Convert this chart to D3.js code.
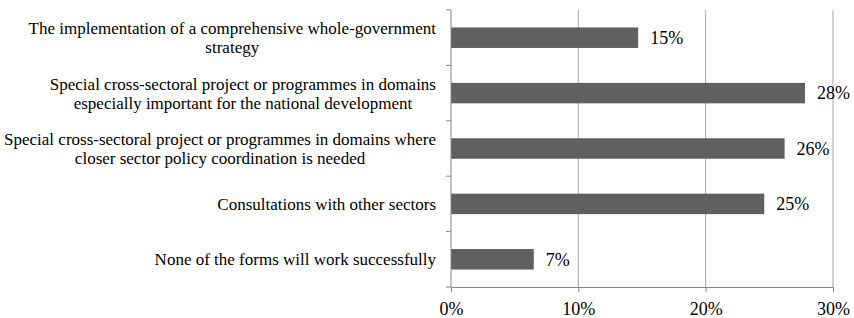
<!DOCTYPE html>
<html>
<head>
<meta charset="utf-8">
<script src="https://cdn.jsdelivr.net/npm/d3@7"></script>
</head>
<body style="margin:0">
<div id="chart"></div>
<script>
// Categories (each entry is a list of label lines) and values
var categories = [
  ["The implementation of a comprehensive whole-government", "strategy"],
  ["Special cross-sectoral project or programmes in domains", "especially important for the national development"],
  ["Special cross-sectoral project or programmes in domains where", "closer sector policy coordination is needed"],
  ["Consultations with other sectors"],
  ["None of the forms will work successfully"]
];
var values = [14.7, 27.8, 26.2, 24.6, 6.5];
var valueLabels = ["15%", "28%", "26%", "25%", "7%"];
var xTicks = [0, 10, 20, 30];

var fontName = "'Liberation Serif'";
// text is set at 20px and scaled down, so the serif face is picked
var basePx = 20;

function drawChart() {
  var w = 854;
  var h = 318;
  var plotLeft = 451, plotRight = 833, plotTop = 10, plotBottom = 287;

  var svg = d3.select("#chart").append("svg")
    .attr("width", w)
    .attr("height", h);

  var xScale = d3.scaleLinear().domain([0, 30]).range([plotLeft, plotRight]);
  var yScale = d3.scaleBand()
    .domain(d3.range(categories.length))
    .range([plotTop, plotBottom])
    .paddingInner(0.63)
    .paddingOuter(0.315);

  // Gridlines
  svg.append("g")
    .selectAll("line")
    .data(xTicks.slice(1))
    .enter()
    .append("line")
    .attr("x1", function (d) { return xScale(d); })
    .attr("x2", function (d) { return xScale(d); })
    .attr("y1", plotTop)
    .attr("y2", plotBottom)
    .attr("stroke", "#a6a6a6")
    .attr("stroke-width", 1);

  // Bars
  svg.append("g")
    .selectAll("rect")
    .data(values)
    .enter()
    .append("rect")
    .attr("x", xScale(0))
    .attr("y", function (d, i) { return yScale(i); })
    .attr("width", function (d) { return xScale(d) - xScale(0); })
    .attr("height", yScale.bandwidth())
    .attr("fill", "#606060");

  // Value labels (18px)
  var sv = 18 / basePx;
  svg.selectAll(".val")
    .data(values)
    .enter()
    .append("text")
    .attr("class", "val")
    .attr("transform", "scale(" + sv + ")")
    .attr("x", function (d) { return (xScale(d) + 12) / sv; })
    .attr("y", function (d, i) { return (yScale(i) + yScale.bandwidth() / 2) / sv; })
    .attr("dy", "0.35em")
    .attr("fill", "#000")
    .style("font-family", fontName)
    .style("font-size", basePx + "px")
    .text(function (d, i) { return valueLabels[i]; });

  // X axis
  var xAxis = svg.append("g")
    .attr("transform", "translate(0," + plotBottom + ")")
    .call(d3.axisBottom(xScale).tickValues(xTicks).tickSize(5).tickPadding(10)
      .tickFormat(function (d) { return d + "%"; }));
  xAxis.select(".domain").attr("stroke", "#868686");
  xAxis.selectAll(".tick line").attr("stroke", "#868686");
  xAxis.selectAll("text")
    .attr("fill", "#000")
    .attr("transform", "scale(" + sv + ")")
    .attr("y", 15 / sv)
    .style("font-family", fontName)
    .style("font-size", basePx + "px");

  // Y axis line and tick marks at band boundaries
  var boundaries = d3.range(categories.length + 1).map(function (i) {
    return plotTop + i * (plotBottom - plotTop) / categories.length;
  });
  svg.append("line")
    .attr("x1", plotLeft).attr("x2", plotLeft)
    .attr("y1", plotTop).attr("y2", plotBottom)
    .attr("stroke", "#868686");
  svg.append("g")
    .selectAll("line")
    .data(boundaries)
    .enter()
    .append("line")
    .attr("x1", plotLeft - 5).attr("x2", plotLeft)
    .attr("y1", function (d) { return d; })
    .attr("y2", function (d) { return d; })
    .attr("stroke", "#868686");

  // Category labels (17px): block right-aligned, lines centered within block
  var sc = 17 / basePx;
  var lineH = 19;
  categories.forEach(function (lines, i) {
    var cy = yScale(i) + yScale.bandwidth() / 2;
    var y0 = cy - (lines.length - 1) * lineH / 2;
    var texts = svg.selectAll(".cat" + i)
      .data(lines)
      .enter()
      .append("text")
      .attr("class", "cat" + i)
      .attr("transform", "scale(" + sc + ")")
      .attr("y", function (d, j) { return (y0 + j * lineH) / sc; })
      .attr("dy", "0.35em")
      .attr("text-anchor", "middle")
      .attr("fill", "#000")
      .style("font-family", fontName)
      .style("font-size", basePx + "px")
      .text(function (d) { return d; });
    var maxW = 0;
    texts.each(function () { maxW = Math.max(maxW, this.getComputedTextLength() * sc); });
    texts.attr("x", (436 - maxW / 2) / sc);
  });
}

drawChart();
</script>
</body>
</html>
